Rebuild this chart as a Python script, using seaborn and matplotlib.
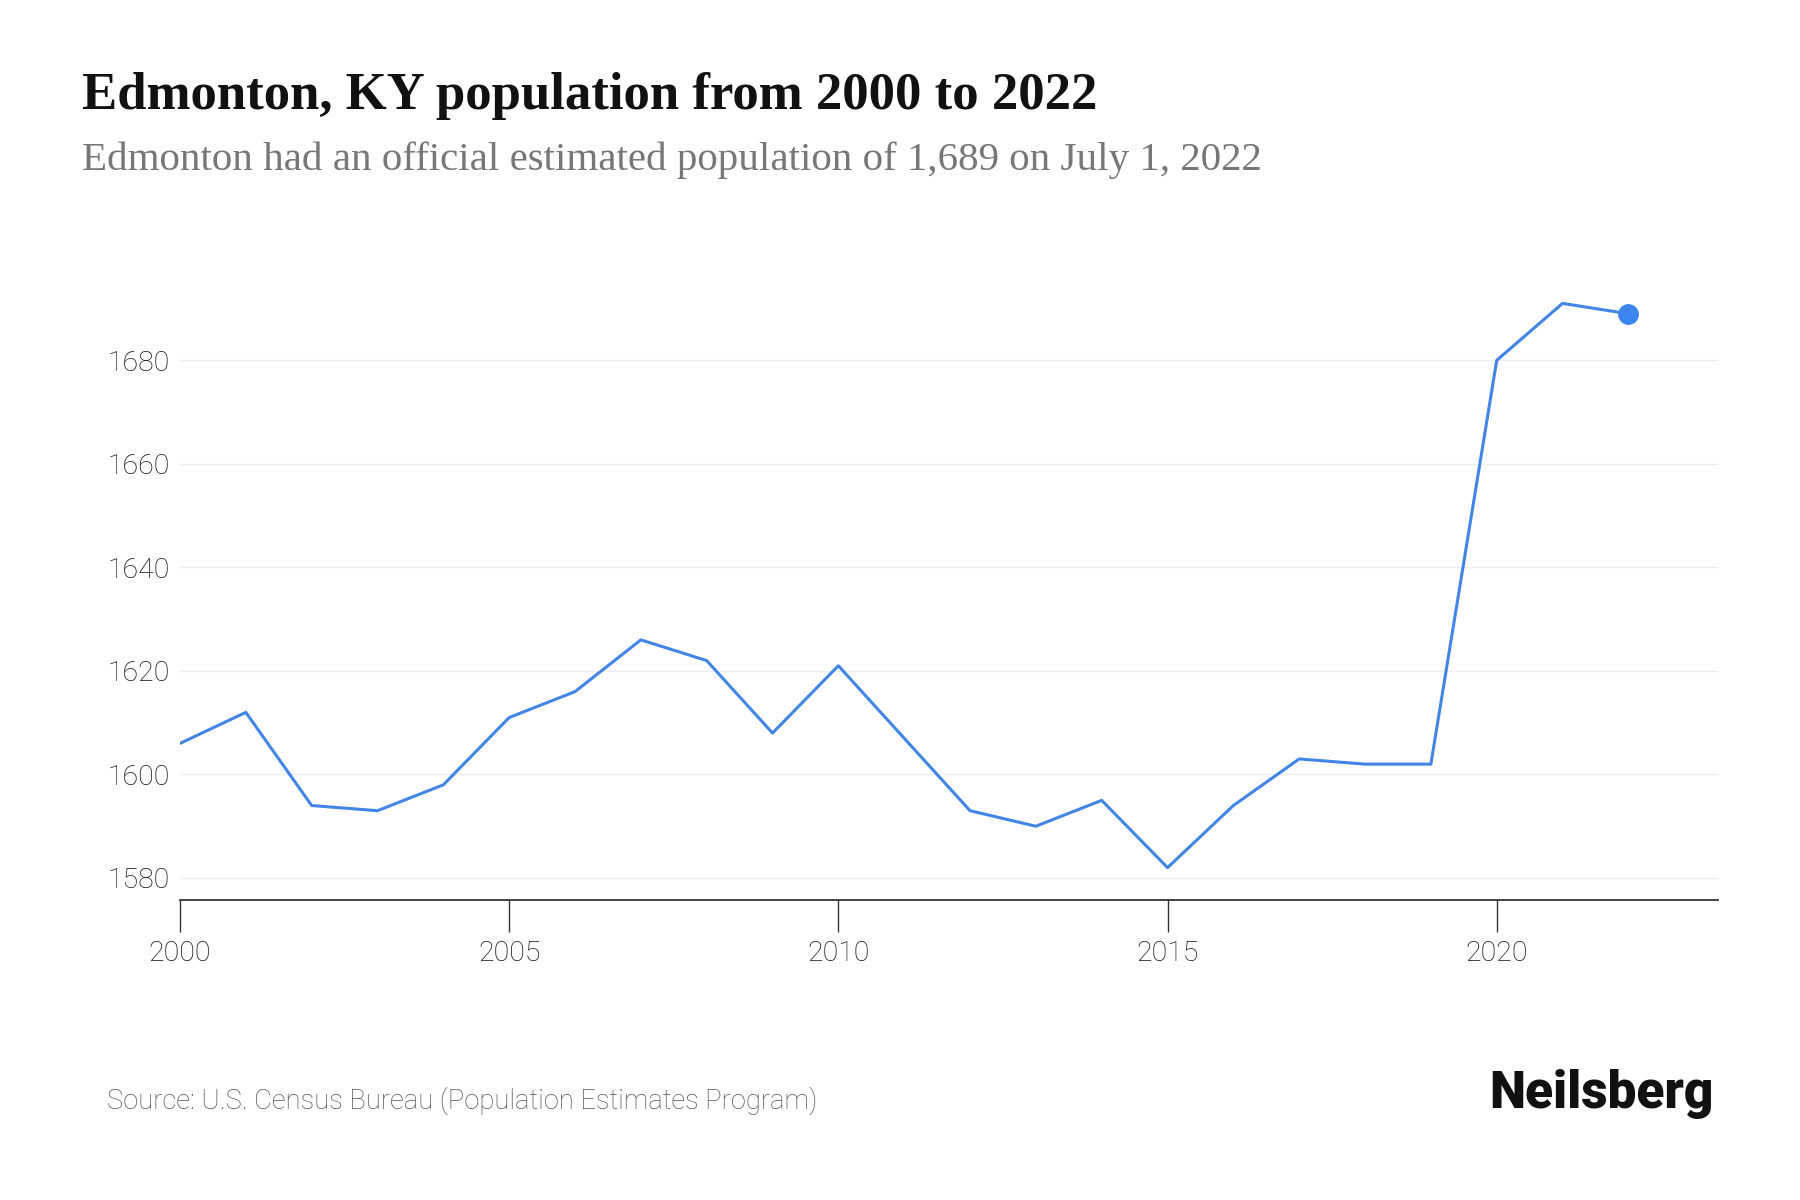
import matplotlib
matplotlib.use("Agg")
import matplotlib.pyplot as plt
import seaborn as sns
import pandas as pd

years = list(range(2000, 2023))
population = [1606, 1612, 1594, 1593, 1598, 1611, 1616, 1626, 1622, 1608,
              1621, 1607, 1593, 1590, 1595, 1582, 1594, 1603, 1602, 1602,
              1680, 1691, 1689]
y_ticks = [1580, 1600, 1620, 1640, 1660, 1680]
x_ticks = [2000, 2005, 2010, 2015, 2020]

title = "Edmonton, KY population from 2000 to 2022"
subtitle = "Edmonton had an official estimated population of 1,689 on July 1, 2022"
source = "Source: U.S. Census Bureau (Population Estimates Program)"

df = pd.DataFrame({"year": years, "population": population})

sns.set_theme(style="white")
plt.rcParams['font.family'] = ['Roboto', 'DejaVu Sans']

fig = plt.figure(figsize=(18, 12), dpi=100)
ax = fig.add_axes([0.1, 0.25, 0.8544, 0.536])

line_color = "#4285e6"
sns.lineplot(data=df, x="year", y="population", ax=ax, color=line_color, linewidth=2.2)
ax.plot([years[-1]], [population[-1]], "o", color="#3d86f0", markersize=14, zorder=5)

ax.set_xlim(2000, 2023.36)
ax.set_ylim(1575.75, 1700)
ax.set_yticks(y_ticks)
ax.set_xticks(x_ticks)
ax.set_xlabel("")
ax.set_ylabel("")
ax.grid(axis="y", color="#eeeeee", linewidth=1.0)
ax.grid(axis="x", visible=False)
for s in ["top", "right", "left"]:
    ax.spines[s].set_visible(False)
ax.spines["bottom"].set_color("#222222")
ax.spines["bottom"].set_linewidth(1.2)
ax.tick_params(axis="x", bottom=True, direction="out", length=23, width=1.0, color="#333333",
               labelsize=20.5, labelcolor="#111111", pad=6)
ax.tick_params(axis="y", left=False, length=0, labelsize=20.5, labelcolor="#111111", pad=7.5)
for lab in ax.get_xticklabels() + ax.get_yticklabels():
    lab.set_fontweight("light")

fig.text(0.0456, 0.909, title, fontsize=38, fontfamily=["Liberation Serif"],
         fontweight="bold", color="#111111", va="baseline")
fig.text(0.0456, 0.8585, subtitle, fontsize=29.5, fontfamily=["Liberation Serif"],
         color="#777777", va="baseline")
fig.text(0.0594, 0.0765, source, fontsize=19.7, color="#555555", va="baseline",
         fontweight="light")
fig.text(0.9522, 0.0765, "Neilsberg", fontsize=37, fontweight="black",
         color="#111111", ha="right", va="baseline")

fig.savefig("out.png", dpi=100, facecolor="white")
